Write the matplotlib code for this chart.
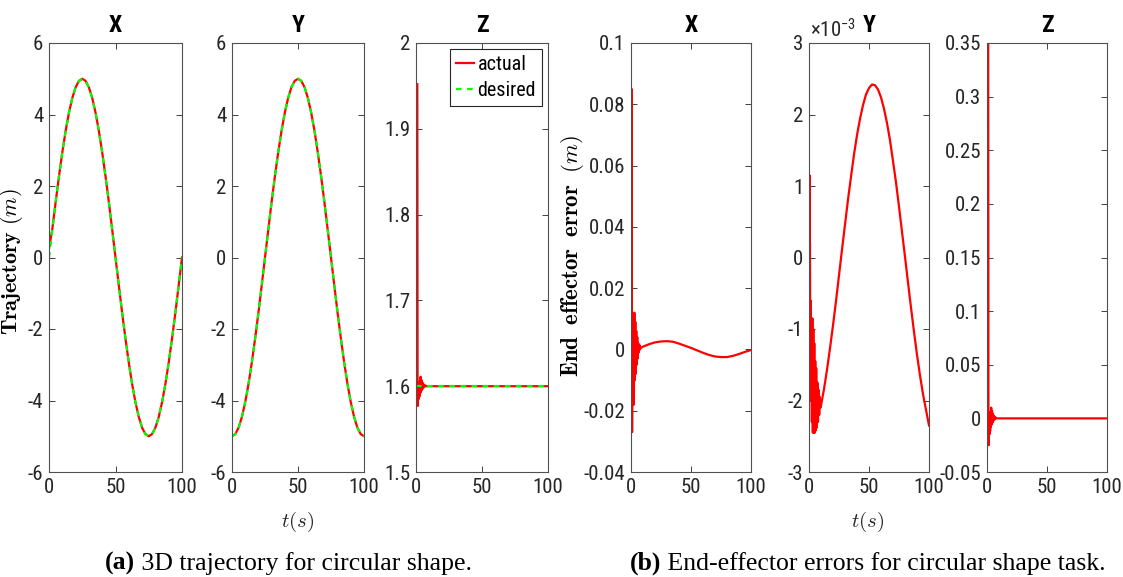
import matplotlib
matplotlib.use('Agg')
import matplotlib.pyplot as plt
from matplotlib.ticker import FuncFormatter, MultipleLocator

plt.rcParams['font.family'] = ['Liberation Sans Narrow', 'Roboto Condensed', 'Liberation Sans',
                               'DejaVu Sans']
plt.rcParams['mathtext.fontset'] = 'cm'
plt.rcParams['axes.unicode_minus'] = False

# ---- data ----
# trajectories, every 2.5 s
traj_t = [0, 2.5, 5, 7.5, 10, 12.5, 15, 17.5, 20, 22.5, 25, 27.5, 30, 32.5, 35, 37.5, 40,
          42.5, 45, 47.5, 50, 52.5, 55, 57.5, 60, 62.5, 65, 67.5, 70, 72.5, 75, 77.5, 80,
          82.5, 85, 87.5, 90, 92.5, 95, 97.5, 100]
x_des = [0, 0.78, 1.55, 2.27, 2.94, 3.54, 4.05, 4.46, 4.76, 4.94, 5.00, 4.94, 4.76, 4.46,
         4.05, 3.54, 2.94, 2.27, 1.55, 0.78, 0, -0.78, -1.55, -2.27, -2.94, -3.54, -4.05,
         -4.46, -4.76, -4.94, -5.00, -4.94, -4.76, -4.46, -4.05, -3.54, -2.94, -2.27, -1.55,
         -0.78, 0]
x_act = [0.25, 0.80, 1.55, 2.27, 2.94, 3.54, 4.05, 4.46, 4.76, 4.94, 5.00, 4.94, 4.76, 4.46,
         4.05, 3.54, 2.94, 2.27, 1.55, 0.78, 0, -0.78, -1.55, -2.27, -2.94, -3.54, -4.05,
         -4.46, -4.76, -4.94, -5.00, -4.94, -4.76, -4.46, -4.05, -3.54, -2.94, -2.27, -1.55,
         -0.78, 0]
y_des = [-5.00, -4.94, -4.76, -4.46, -4.05, -3.54, -2.94, -2.27, -1.55, -0.78, 0, 0.78,
         1.55, 2.27, 2.94, 3.54, 4.05, 4.46, 4.76, 4.94, 5.00, 4.94, 4.76, 4.46, 4.05, 3.54,
         2.94, 2.27, 1.55, 0.78, 0, -0.78, -1.55, -2.27, -2.94, -3.54, -4.05, -4.46, -4.76,
         -4.94, -5.00]
y_act = y_des

z_t = [1.0, 1.2, 1.4, 1.7, 2.0, 2.3, 2.6, 2.9, 3.2, 3.5, 3.8, 4.2, 4.6, 5.0, 5.4, 5.9, 6.4,
       6.9, 7.9, 100]
z_act = [1.952, 1.6, 1.577, 1.602, 1.585, 1.604, 1.588, 1.606, 1.592, 1.611, 1.594, 1.607,
         1.596, 1.604, 1.598, 1.602, 1.599, 1.601, 1.6, 1.6]
z_des_t = [0, 100]
z_des = [1.6, 1.6]

# end-effector errors
ex_t = [0, 0.5, 0.9, 1.2, 1.6, 2.0, 2.4, 2.8, 3.2, 3.6, 4.0, 4.4, 4.8, 5.2, 5.6, 6.0, 6.5,
        7.0, 7.5, 8, 10, 15, 20, 25, 30, 35, 40, 45, 50, 55, 60, 65, 70, 75, 80, 85, 90, 95, 100]
ex_v = [0.0, 0.085, -0.027, 0.005, -0.012, 0.008, -0.018, 0.012, -0.010, 0.009, -0.008,
        0.006, -0.005, 0.004, -0.003, 0.002, -0.001, 0.0015, 0.0, 0.0005, 0.0009, 0.0017,
        0.0023, 0.0026, 0.0027, 0.0025, 0.0019, 0.0012, 0.0005, -0.0003, -0.0011, -0.0018,
        -0.0023, -0.0025, -0.0025, -0.0021, -0.0015, -0.0008, -0.0002]

ey_t = [0, 0.2, 0.4, 0.6, 0.8, 1.0, 1.3, 1.6, 2.0, 2.4, 2.8, 3.2, 3.6, 4.0, 4.4, 4.8, 5.2,
        5.6, 6.0, 6.5, 7.0, 7.5, 8.0, 8.5, 9.0, 9.5,
        10, 12.5, 15, 17.5, 20, 22.5, 25, 27.5, 30, 32.5, 35, 37.5, 40, 42.5, 45, 47.5, 50,
        52.5, 55, 57.5, 60, 62.5, 65, 67.5, 70, 72.5, 75, 77.5, 80, 82.5, 85, 87.5, 90, 92.5,
        95, 97.5, 100]
ey_v = [0, -0.35, 1.15, -0.3, 0.2, -1.0, -0.6, -2.0, -1.2, -2.3, -0.85, -2.45, -1.0, -2.45,
        -1.2, -2.45, -1.45, -2.42, -1.55, -2.38, -1.75, -2.3, -1.85, -2.2, -1.95, -2.1,
        -2.07, -1.84, -1.57, -1.27, -0.95, -0.61, -0.25, 0.11, 0.46, 0.81, 1.13, 1.44, 1.71,
        1.94, 2.13, 2.28, 2.37, 2.42, 2.41, 2.35, 2.24, 2.08, 1.88, 1.64, 1.35, 1.05, 0.71,
        0.36, 0.01, -0.35, -0.70, -1.04, -1.36, -1.65, -1.91, -2.13, -2.35]   # x 1e-3

ez_t = z_t
ez_v = [0.35, 0.0, -0.025, 0.002, -0.015, 0.004, -0.012, 0.006, -0.008, 0.010, -0.006,
        0.007, -0.004, 0.004, -0.002, 0.002, -0.001, 0.001, 0.0, 0.0]

RED = '#ff0000'
GREEN = '#00ff00'
W, H = 1123, 577

fig = plt.figure(figsize=(W / 100, H / 100), dpi=100)


def box(x0, x1, top=43, bottom=472):
    return [x0 / W, 1 - bottom / H, (x1 - x0) / W, (bottom - top) / H]


def style(ax, title, ylim, ystep):
    ax.set_xlim(0, 100)
    ax.set_ylim(*ylim)
    ax.xaxis.set_major_locator(MultipleLocator(50))
    ax.yaxis.set_major_locator(MultipleLocator(ystep))
    fmt = FuncFormatter(lambda v, p: '{:g}'.format(round(v, 6)))
    ax.yaxis.set_major_formatter(fmt)
    ax.xaxis.set_major_formatter(fmt)
    ax.tick_params(direction='in', top=True, right=True, length=4, width=0.7,
                   color='#404040', labelsize=15, labelcolor='#262626', pad=4)
    for s in ax.spines.values():
        s.set_color('#505050')
        s.set_linewidth(0.8)
    ax.set_title(title, fontsize=17, fontweight='bold', pad=8)


# (a) trajectories
ax1 = fig.add_axes(box(49, 182))
ax1.plot(traj_t, x_act, color=RED, lw=1.6)
ax1.plot(traj_t, x_des, color=GREEN, lw=1.6, ls=(0, (2.5, 2.5)))
style(ax1, 'X', (-6, 6), 2)

ax2 = fig.add_axes(box(232, 364))
ax2.plot(traj_t, y_act, color=RED, lw=1.6)
ax2.plot(traj_t, y_des, color=GREEN, lw=1.6, ls=(0, (2.5, 2.5)))
style(ax2, 'Y', (-6, 6), 2)

ax3 = fig.add_axes(box(416, 548))
ax3.plot(z_t, z_act, color=RED, lw=1.6, label='actual')
ax3.plot(z_des_t, z_des, color=GREEN, lw=1.6, ls=(0, (2.5, 2.5)), label='desired')
style(ax3, 'Z', (1.5, 2), 0.1)
leg = ax3.legend(loc='upper right', fontsize=14.5, handlelength=0.9, handletextpad=0.15,
                 borderpad=0.3, labelspacing=0.35, borderaxespad=0.3, fancybox=False,
                 framealpha=1, edgecolor='#262626')
leg.get_frame().set_linewidth(0.8)

# (b) errors
ax4 = fig.add_axes(box(631, 751))
ax4.plot(ex_t, ex_v, color=RED, lw=1.6)
style(ax4, 'X', (-0.04, 0.1), 0.02)

ax5 = fig.add_axes(box(809, 929))
ax5.plot(ey_t, ey_v, color=RED, lw=1.6)
style(ax5, 'Y', (-3, 3), 1)
fig.text(810 / W, 1 - 37 / H, r'$\mathregular{\times10^{-3}}$', fontsize=15,
         color='#262626', va='baseline', ha='left')

ax6 = fig.add_axes(box(987, 1107))
ax6.plot(ez_t, ez_v, color=RED, lw=1.6)
style(ax6, 'Z', (-0.05, 0.35), 0.05)

# axis labels
fig.text(12 / W, 1 - 262 / H, r'$\mathbf{Trajectory}\ (m)$', rotation=90, fontsize=16,
         ha='center', va='center')
fig.text(573 / W, 1 - 256 / H, r'$\mathbf{End\;\ effector\;\ error}\;\ (m)$',
         rotation=90, fontsize=16.5, ha='center', va='center')
fig.text(298 / W, 1 - 522 / H, r'$t(s)$', fontsize=15, ha='center', va='center',
         color='#262626')
fig.text(868 / W, 1 - 522 / H, r'$t(s)$', fontsize=15, ha='center', va='center',
         color='#262626')

# captions: bold tag followed by plain text, centred as one line
cap_y = 1 - 570 / H
renderer = fig.canvas.get_renderer()
for tag, rest, cx in [('(a)', '3D trajectory for circular shape.', 288),
                      ('(b)', 'End-effector errors for circular shape task.', 868)]:
    t1 = fig.text(0, cap_y, tag, fontsize=18.5, fontweight='bold',
                  family='Liberation Serif', va='baseline')
    t2 = fig.text(0, cap_y, ' ' + rest, fontsize=18.5, family='Liberation Serif',
                  va='baseline')
    w1 = t1.get_window_extent(renderer).width
    w2 = t2.get_window_extent(renderer).width
    x0 = cx - (w1 + w2) / 2
    t1.set_x(x0 / W)
    t2.set_x((x0 + w1) / W)

fig.savefig('out.png', dpi=100)
